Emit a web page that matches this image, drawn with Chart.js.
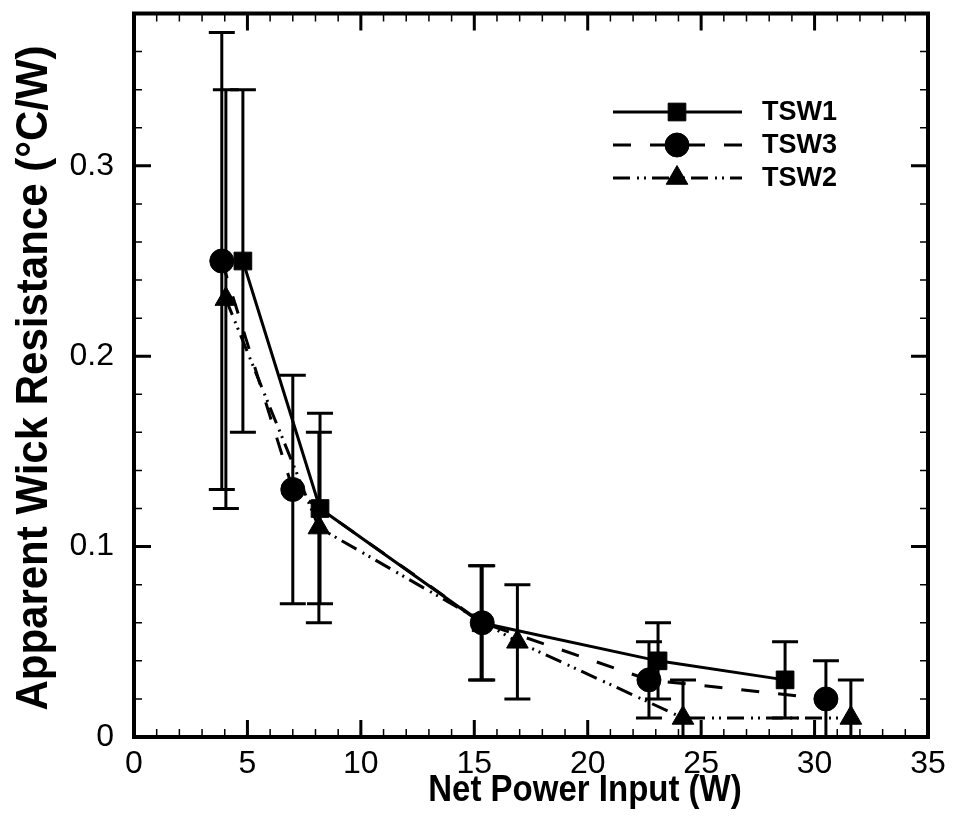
<!DOCTYPE html>
<html>
<head>
<meta charset="utf-8">
<script src="https://cdn.jsdelivr.net/npm/chart.js"></script>
<style>
    html, body { margin: 0; padding: 0; background: #ffffff; }
</style>
</head>
<body>
<canvas id="chart" width="954" height="835"></canvas>
<script>
const FONT = "'Liberation Sans', Arial, Helvetica, sans-serif";

// axis setup
const X_MAX = 35;
const Y_MAX = 0.38;
const xTickLabels = ['0', '5', '10', '15', '20', '25', '30', '35'];
const yTickLabels = ['0', '0.1', '0.2', '0.3'];
const xTitle = 'Net Power Input (W)';
const yTitle = 'Apparent Wick Resistance (°C/W)';

// series
const tsw1Power = [4.8, 8.2, 15.3, 23.1, 28.7];
const tsw1Resistance = [0.25, 0.12, 0.06, 0.04, 0.03];
const tsw1Low = [0.16, 0.07, 0.03, 0.02, 0.01];
const tsw1High = [0.34, 0.17, 0.09, 0.06, 0.05];

const tsw3Power = [3.87, 7.0, 15.35, 22.7, 30.5];
const tsw3Resistance = [0.25, 0.13, 0.06, 0.03, 0.02];
const tsw3Low = [0.13, 0.07, 0.03, 0.01, 0.0];
const tsw3High = [0.37, 0.19, 0.09, 0.05, 0.04];

const tsw2Power = [4.05, 8.15, 16.9, 24.2, 31.6];
const tsw2Resistance = [0.23, 0.11, 0.05, 0.01, 0.01];
const tsw2Low = [0.12, 0.06, 0.02, -0.01, -0.01];
const tsw2High = [0.34, 0.16, 0.08, 0.03, 0.03];

function toPoints(xs, ys) {
    return xs.map((x, i) => ({ x, y: ys[i] }));
}

function makeSeries(label, xs, ys, low, high, pointStyle, radius, dash, order) {
    return {
        label,
        data: toPoints(xs, ys),
        errLow: low,
        errHigh: high,
        borderColor: '#000000',
        backgroundColor: '#000000',
        borderWidth: 3,
        borderDash: dash,
        pointStyle,
        pointRadius: radius,
        pointBackgroundColor: '#000000',
        pointBorderColor: '#000000',
        pointBorderWidth: 1,
        showLine: true,
        tension: 0,
        order
    };
}

const datasets = [
    makeSeries('TSW1', tsw1Power, tsw1Resistance, tsw1Low, tsw1High, 'rect', 12.5, [], 1),
    makeSeries('TSW3', tsw3Power, tsw3Resistance, tsw3Low, tsw3High, 'circle', 12, [18, 19], 0),
    makeSeries('TSW2', tsw2Power, tsw2Resistance, tsw2Low, tsw2High, 'triangle', 12.5, [17, 7, 2, 5, 2, 6], 2)
];

// small marker painter for the legend, same shapes as Chart.js
function drawMarker(ctx, style, r, x, y) {
    ctx.beginPath();
    if (style === 'rect') {
        const s = r * Math.SQRT1_2;
        ctx.rect(x - s, y - s, 2 * s, 2 * s);
    } else if (style === 'circle') {
        ctx.arc(x, y, r, 0, Math.PI * 2);
    } else {
        ctx.moveTo(x, y - r);
        ctx.lineTo(x + Math.sin(Math.PI * 2 / 3) * r, y - Math.cos(Math.PI * 2 / 3) * r);
        ctx.lineTo(x + Math.sin(Math.PI * 4 / 3) * r, y - Math.cos(Math.PI * 4 / 3) * r);
        ctx.closePath();
    }
    ctx.fill();
    ctx.stroke();
}

const errorBarPlugin = {
    id: 'errorBars',
    beforeDatasetsDraw(chart) {
        const { ctx, chartArea, scales } = chart;
        const cap = 13;
        ctx.save();
        ctx.beginPath();
        ctx.rect(chartArea.left, chartArea.top, chartArea.right - chartArea.left, chartArea.bottom - chartArea.top);
        ctx.clip();
        ctx.strokeStyle = '#000000';
        ctx.lineWidth = 3;
        chart.data.datasets.forEach(ds => {
            ds.data.forEach((pt, i) => {
                const px = scales.x.getPixelForValue(pt.x);
                const lo = scales.y.getPixelForValue(ds.errLow[i]);
                const hi = scales.y.getPixelForValue(ds.errHigh[i]);
                ctx.beginPath();
                ctx.moveTo(px, lo);
                ctx.lineTo(px, hi);
                ctx.moveTo(px - cap, lo);
                ctx.lineTo(px + cap, lo);
                ctx.moveTo(px - cap, hi);
                ctx.lineTo(px + cap, hi);
                ctx.stroke();
            });
        });
        ctx.restore();
    }
};

const framePlugin = {
    id: 'frame',
    afterDraw(chart) {
        const { ctx, chartArea: a, scales } = chart;
        ctx.save();
        ctx.strokeStyle = '#000000';
        // x ticks, every 1, major every 5
        for (let v = 0; v <= X_MAX; v++) {
            const px = scales.x.getPixelForValue(v);
            const major = v % 5 === 0;
            const len = major ? 17 : 8;
            ctx.lineWidth = major ? 3 : 1.5;
            ctx.beginPath();
            ctx.moveTo(px, a.bottom);
            ctx.lineTo(px, a.bottom - len);
            ctx.moveTo(px, a.top);
            ctx.lineTo(px, a.top + len);
            ctx.stroke();
        }
        // y ticks, every 0.02, major every 0.1
        for (let i = 0; i * 0.02 <= Y_MAX + 1e-9; i++) {
            const py = scales.y.getPixelForValue(i * 0.02);
            const major = i % 5 === 0;
            const len = major ? 17 : 8;
            ctx.lineWidth = major ? 3 : 1.5;
            ctx.beginPath();
            ctx.moveTo(a.left, py);
            ctx.lineTo(a.left + len, py);
            ctx.moveTo(a.right, py);
            ctx.lineTo(a.right - len, py);
            ctx.stroke();
        }
        ctx.lineWidth = 4;
        ctx.strokeRect(a.left, a.top, a.right - a.left, a.bottom - a.top);

        // axis titles (the source font is a bit taller than Arial)
        ctx.fillStyle = '#000000';
        ctx.textAlign = 'center';
        ctx.textBaseline = 'alphabetic';
        ctx.save();
        ctx.translate(585, 801);
        ctx.scale(1, 1.1);
        ctx.font = `bold 33px ${FONT}`;
        ctx.fillText(xTitle, 0, 0);
        ctx.restore();

        ctx.save();
        ctx.translate(47, 378);
        ctx.rotate(-Math.PI / 2);
        ctx.scale(1, 1.05);
        ctx.font = `bold 42px ${FONT}`;
        ctx.fillText(yTitle, 0, 0);
        ctx.restore();

        // legend
        const rowY = [112, 145, 178];
        ctx.font = `bold 27px ${FONT}`;
        ctx.textAlign = 'left';
        ctx.textBaseline = 'middle';
        chart.data.datasets.forEach((ds, i) => {
            const y = rowY[i];
            ctx.lineWidth = 3;
            ctx.setLineDash(ds.borderDash);
            ctx.beginPath();
            ctx.moveTo(613, y);
            ctx.lineTo(742, y);
            ctx.stroke();
            ctx.setLineDash([]);
            ctx.lineWidth = 1;
            drawMarker(ctx, ds.pointStyle, ds.pointRadius, 677, y);
            ctx.fillText(ds.label, 762, y + 1);
        });
        ctx.restore();
    }
};

new Chart(document.getElementById('chart'), {
    type: 'line',
    data: { datasets },
    options: {
        responsive: false,
        animation: false,
        layout: { padding: { top: 11, right: 26, left: 0, bottom: 0 } },
        scales: {
            x: {
                type: 'linear',
                min: 0,
                max: X_MAX,
                grid: { display: false },
                border: { display: false },
                afterFit(scale) {
                    scale.height = 98;
                    scale.paddingLeft = 0;
                    scale.paddingRight = 0;
                },
                ticks: {
                    stepSize: 5,
                    padding: 0,
                    color: '#000000',
                    font: { family: FONT, size: 32 },
                    maxRotation: 0,
                    callback(value) { return xTickLabels[Math.round(value / 5)]; }
                }
            },
            y: {
                type: 'linear',
                min: 0,
                max: Y_MAX,
                grid: { display: false },
                border: { display: false },
                afterFit(scale) {
                    scale.width = 134;
                    scale.paddingTop = 0;
                    scale.paddingBottom = 0;
                },
                afterBuildTicks(scale) {
                    scale.ticks = scale.ticks.filter(t => Math.abs(t.value * 10 - Math.round(t.value * 10)) < 1e-6);
                },
                ticks: {
                    stepSize: 0.1,
                    padding: 12,
                    color: '#000000',
                    font: { family: FONT, size: 32 },
                    callback(value) { return yTickLabels[Math.round(value * 10)]; }
                }
            }
        },
        plugins: {
            legend: { display: false },
            tooltip: { enabled: false }
        }
    },
    plugins: [errorBarPlugin, framePlugin]
});
</script>
</body>
</html>
